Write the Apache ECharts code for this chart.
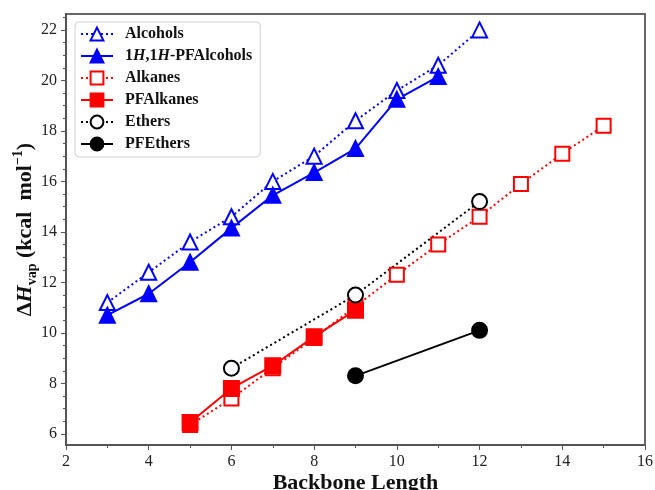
<!DOCTYPE html>
<html>
<head>
<meta charset="utf-8">
<script src="https://cdn.jsdelivr.net/npm/echarts@6/dist/echarts.min.js"></script>
<style>
  html, body { margin: 0; padding: 0; background: #fff; }
  #main { width: 655px; height: 490px; }
</style>
</head>
<body>
<div id="main"></div>
<script>
// values
const alcoholsX = [3, 4, 5, 6, 7, 8, 9, 10, 11, 12];
const alcoholsY = [11.2, 12.4, 13.6, 14.6, 16.0, 17.0, 18.4, 19.6, 20.6, 22.0];
const pfAlcoholsX = [3, 4, 5, 6, 7, 8, 9, 10, 11];
const pfAlcoholsY = [10.7, 11.55, 12.8, 14.15, 15.45, 16.35, 17.3, 19.25, 20.15];
const alkanesX = [5, 6, 7, 8, 9, 10, 11, 12, 13, 14, 15];
const alkanesY = [6.35, 7.4, 8.6, 9.8, 11.05, 12.3, 13.5, 14.6, 15.9, 17.1, 18.2];
const pfAlkanesX = [5, 6, 7, 8, 9];
const pfAlkanesY = [6.45, 7.8, 8.7, 9.85, 10.9];
const ethersX = [6, 9, 12];
const ethersY = [8.6, 11.5, 15.2];
const pfEthersX = [9, 12];
const pfEthersY = [8.3, 10.1];

const yMajorTicks = [6, 8, 10, 12, 14, 16, 18, 20, 22];
const yMinorTicks = [6.5, 7, 7.5, 8.5, 9, 9.5, 10.5, 11, 11.5, 12.5, 13, 13.5,
  14.5, 15, 15.5, 16.5, 17, 17.5, 18.5, 19, 19.5, 20.5, 21, 21.5, 22.5];

const FONT = '"Liberation Serif", "DejaVu Serif", serif';

function pairs(xs, ys) {
  return xs.map(function (x, i) { return [x, ys[i]]; });
}

function makeSeries(name, xs, ys, color, symbol, dotted, size) {
  return {
    name: name,
    type: 'line',
    data: pairs(xs, ys),
    symbol: symbol,
    symbolSize: size,
    showAllSymbol: true,
    animation: false,
    lineStyle: { color: color, width: 2, type: dotted ? [2, 3] : 'solid' },
    itemStyle: { color: color, borderColor: color, borderWidth: 2 }
  };
}

const chart = echarts.init(document.getElementById('main'));

chart.setOption({
  animation: false,
  grid: {
    left: 66, right: 10, top: 14, bottom: 45,
    outerBoundsMode: 'none',
    containLabel: false,
    show: true, borderColor: '#666', borderWidth: 2, backgroundColor: '#fff'
  },
  legend: {
    orient: 'vertical',
    left: 75, top: 22,
    itemWidth: 32, itemHeight: 16, itemGap: 6,
    padding: [4, 8, 5, 5],
    borderColor: '#d0d0d0', borderWidth: 1, borderRadius: 4,
    backgroundColor: '#fff',
    textStyle: {
      fontFamily: FONT, fontSize: 16, fontWeight: 'bold', color: '#111',
      padding: [0, 0, 0, 7],
      rich: {
        b: { fontFamily: FONT, fontSize: 16, fontWeight: 'bold', color: '#111' },
        i: { fontFamily: FONT, fontSize: 16, fontWeight: 'bold', fontStyle: 'italic', color: '#111' }
      }
    },
    formatter: function (name) {
      if (name === '1H,1H-PFAlcohols') {
        return '{b|1}{i|H}{b|,1}{i|H}{b|-PFAlcohols}';
      }
      return name;
    }
  },
  xAxis: {
    type: 'value',
    min: 2, max: 16, interval: 2,
    name: 'Backbone Length',
    nameLocation: 'middle',
    nameGap: 27,
    nameMoveOverlap: false,
    nameTextStyle: { fontFamily: FONT, fontSize: 22, fontWeight: 'bold', color: '#111' },
    axisLine: { lineStyle: { color: '#555', width: 2 } },
    axisTick: { length: 5, lineStyle: { color: '#555' } },
    minorTick: { show: true, splitNumber: 2, length: 3, lineStyle: { color: '#555' } },
    splitLine: { show: false },
    axisLabel: { fontFamily: FONT, fontSize: 16, color: '#222', margin: 9 }
  },
  yAxis: [{
    type: 'value',
    min: 5.56, max: 22.63,
    name: '{d|Δ}{i|H}{sub|vap}{d| (kcal  mol}{sup|−1}{d|)}',
    nameLocation: 'middle',
    nameRotate: 90,
    nameGap: 27,
    nameMoveOverlap: false,
    nameTextStyle: {
      rich: {
        d: { fontFamily: FONT, fontSize: 22, fontWeight: 'bold', color: '#111', lineHeight: 28 },
        i: { fontFamily: FONT, fontSize: 22, fontWeight: 'bold', fontStyle: 'italic', color: '#111', lineHeight: 28 },
        sub: { fontFamily: FONT, fontSize: 14, fontWeight: 'bold', color: '#111', lineHeight: 15, verticalAlign: 'bottom' },
        sup: { fontFamily: FONT, fontSize: 14, fontWeight: 'bold', color: '#111', lineHeight: 15, verticalAlign: 'top' }
      }
    },
    axisLine: { lineStyle: { color: '#555', width: 2 } },
    axisTick: { length: 5, lineStyle: { color: '#555' }, customValues: yMajorTicks },
    splitLine: { show: false },
    axisLabel: { fontFamily: FONT, fontSize: 16, color: '#222', margin: 9, customValues: yMajorTicks }
  }, {
    type: 'value',
    position: 'left',
    min: 5.56, max: 22.63,
    axisLine: { show: false },
    axisTick: { show: true, length: 3, lineStyle: { color: '#555' }, customValues: yMinorTicks },
    splitLine: { show: false },
    axisLabel: { show: false }
  }],
  series: [
    makeSeries('Alcohols', alcoholsX, alcoholsY, '#0000ff', 'emptyTriangle', true, 15),
    makeSeries('1H,1H-PFAlcohols', pfAlcoholsX, pfAlcoholsY, '#0000ff', 'triangle', false, 15),
    makeSeries('Alkanes', alkanesX, alkanesY, '#ff0000', 'emptyRect', true, 14),
    makeSeries('PFAlkanes', pfAlkanesX, pfAlkanesY, '#ff0000', 'rect', false, 15),
    makeSeries('Ethers', ethersX, ethersY, '#000000', 'emptyCircle', true, 15),
    makeSeries('PFEthers', pfEthersX, pfEthersY, '#000000', 'circle', false, 15)
  ]
});
</script>
</body>
</html>
